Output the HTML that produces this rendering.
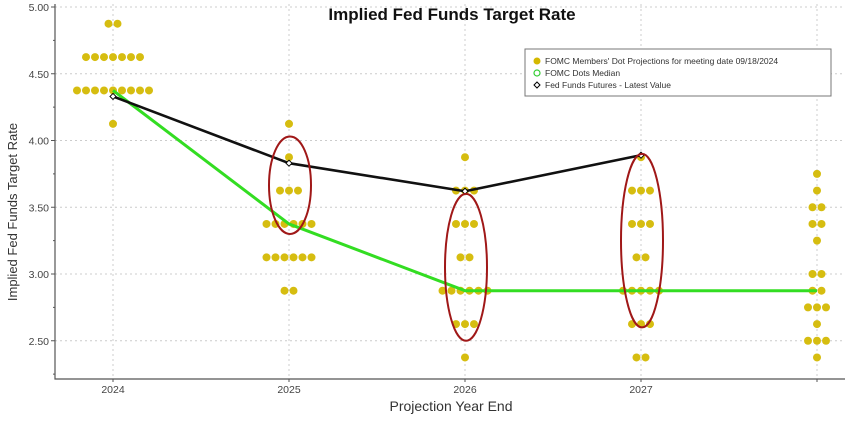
<!DOCTYPE html>
<html><head><meta charset="utf-8"><style>
html,body{margin:0;padding:0;background:#fff;}
svg text{font-family:"Liberation Sans",sans-serif;}
</style></head><body>
<svg id="chart" width="848" height="420" xmlns="http://www.w3.org/2000/svg">
<text x="452" y="20" text-anchor="middle" font-size="17" font-weight="bold" fill="#111">Implied Fed Funds Target Rate</text>
<text transform="translate(17,212) rotate(-90)" text-anchor="middle" font-size="13" fill="#333">Implied Fed Funds Target Rate</text>
<text x="451" y="411" text-anchor="middle" font-size="14" fill="#333">Projection Year End</text>
<g id="grid"></g><g id="axes"></g><g id="marks"></g>
<g>
<rect x="525" y="49" width="306" height="47" fill="#fff" stroke="#777" stroke-width="1"/>
<circle cx="537" cy="61" r="3.5" fill="#d4b800"/>
<text x="545" y="64" font-size="8.5" fill="#333">FOMC Members' Dot Projections for meeting date 09/18/2024</text>
<circle cx="537" cy="73" r="3" fill="none" stroke="#3c3" stroke-width="1.2"/>
<text x="545" y="76" font-size="8.5" fill="#333">FOMC Dots Median</text>
<path d="M537,82 l3,3 l-3,3 l-3,-3z" fill="none" stroke="#000" stroke-width="1"/>
<text x="545" y="88" font-size="8.5" fill="#333">Fed Funds Futures - Latest Value</text>
</g>
</svg>
<script>
const categories = ["2024","2025","2026","2027","Longer run"];
const dotLevels = [
 [[4.875,2],[4.625,7],[4.375,9],[4.125,1]],
 [[4.125,1],[3.875,1],[3.625,3],[3.375,6],[3.125,6],[2.875,2]],
 [[3.875,1],[3.625,3],[3.375,3],[3.125,2],[2.875,6],[2.625,3],[2.375,1]],
 [[3.875,1],[3.625,3],[3.375,3],[3.125,2],[2.875,5],[2.625,3],[2.375,2]],
 [[3.75,1],[3.625,1],[3.5,2],[3.375,2],[3.25,1],[3.0,2],[2.875,2],[2.75,3],[2.625,1],[2.5,3],[2.375,1]]
];
const medianValues = [4.375,3.375,2.875,2.875,2.875];
const futuresValues = [4.33,3.83,3.62,3.89];
const yTicks = [2.5,3.0,3.5,4.0,4.5,5.0];
const xTickLabels = ["2024","2025","2026","2027",""];
const highlightCats = [1,2,3];
const highlightRanges = [[3.3,4.03],[2.5,3.6],[2.6,3.9]];

const NS="http://www.w3.org/2000/svg";
const X0=55,X1=845,YB=379;
const xS=i=>113+i*176;
const yS=v=>7+(5-v)*133.5;
function mk(tag,at,parent){const e=document.createElementNS(NS,tag);for(const k in at)e.setAttribute(k,at[k]);document.getElementById(parent).appendChild(e);return e;}

yTicks.forEach(t=>{
 const g=mk("line",{x1:X0,x2:X1,y1:yS(t),y2:yS(t),stroke:"#ccc","stroke-dasharray":"2,3"},"grid");
 
 
 const tk=mk("line",{x1:X0-4,x2:X0,y1:yS(t),y2:yS(t),stroke:"#555"},"axes");
 
 
 const l=mk("text",{x:X0-6,y:yS(t)+4,"text-anchor":"end","font-size":"10.5",fill:"#444"},"axes");
 l.textContent=t.toFixed(2);
 
 
});
for(let v=2.25;v<5;v+=0.5){
 const tk=mk("line",{x1:X0-2,x2:X0,y1:yS(v),y2:yS(v),stroke:"#555"},"axes");
 
 
}
categories.forEach((c,i)=>{
 const g=mk("line",{x1:xS(i),x2:xS(i),y1:4,y2:YB,stroke:"#ccc","stroke-dasharray":"2,3"},"grid");
 
 
 const tk=mk("line",{x1:xS(i),x2:xS(i),y1:YB,y2:YB+3,stroke:"#555"},"axes");
 
 
 const l=mk("text",{x:xS(i),y:YB+14,"text-anchor":"middle","font-size":"10.5",fill:"#444"},"axes");
 l.textContent=xTickLabels[i];
 
 
});
const ax=mk("path",{d:`M${X0},4 L${X0},${YB} L${X1},${YB}`,fill:"none",stroke:"#555","stroke-width":"1.2"},"axes");



dotLevels.forEach((lv,i)=>{
 lv.forEach(([v,n])=>{
  for(let k=0;k<n;k++){
   const d=mk("circle",{cx:xS(i)+(k-(n-1)/2)*9,cy:yS(v),r:4,fill:"#d6bd10"},"marks");
   
   
  }
 });
});
const mp=mk("polyline",{points:medianValues.map((v,i)=>xS(i)+","+yS(v)).join(" "),fill:"none",stroke:"#33dd22","stroke-width":"3","stroke-linejoin":"round"},"marks");


const fp=mk("polyline",{points:futuresValues.map((v,i)=>xS(i)+","+yS(v)).join(" "),fill:"none",stroke:"#111","stroke-width":"2.6","stroke-linejoin":"round"},"marks");


futuresValues.forEach((v,i)=>{
 const m=mk("path",{d:`M${xS(i)},${yS(v)-3} l3,3 l-3,3 l-3,-3z`,fill:"#fff",stroke:"#000","stroke-width":"1"},"marks");
 
 
});
highlightCats.forEach((c,j)=>{
 const [lo,hi]=highlightRanges[j];
 const e=mk("ellipse",{cx:xS(c)+1,cy:(yS(lo)+yS(hi))/2,rx:21,ry:(yS(lo)-yS(hi))/2,fill:"none",stroke:"#a01818","stroke-width":"2"},"marks");
 
 
});
</script>
</body></html>
